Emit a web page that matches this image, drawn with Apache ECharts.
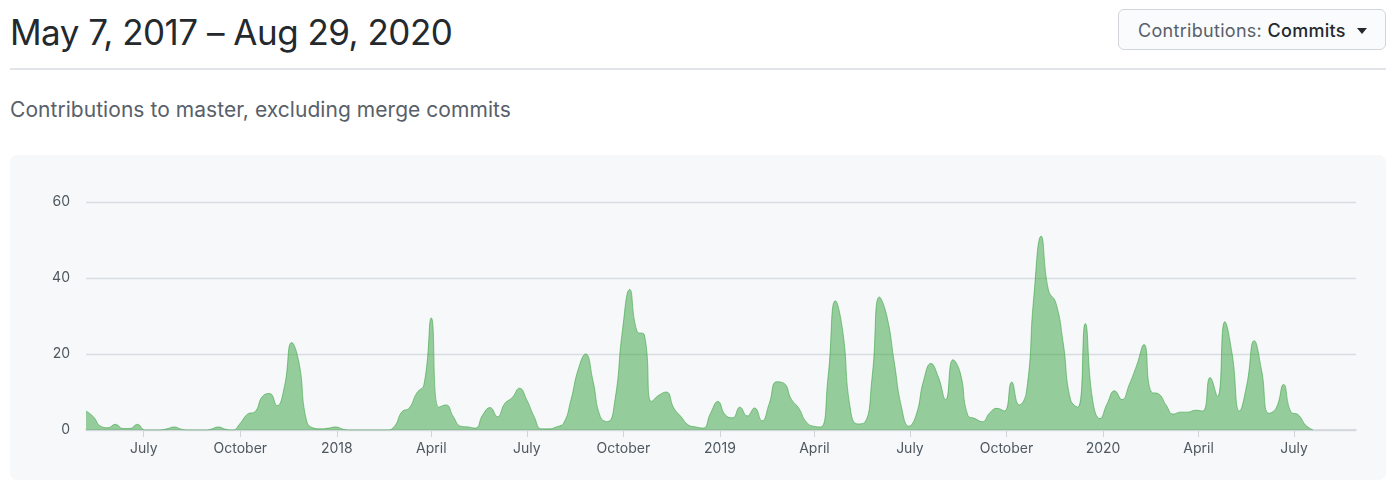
<!DOCTYPE html>
<html>
<head>
<meta charset="utf-8">
<title>Contributors</title>
<script src="https://cdn.jsdelivr.net/npm/echarts@6/dist/echarts.min.js"></script>
<style>
  html, body { margin: 0; padding: 0; background: #fff; }
  body { width: 1400px; height: 490px; position: relative; overflow: hidden;
         font-family: Inter, "Noto Sans", sans-serif; color: #24292e; }
  .title { position: absolute; left: 10px; top: 15px; font-size: 35px; line-height: 35px;
           font-weight: 400; white-space: nowrap; letter-spacing: -0.5px; }
  .rule { position: absolute; left: 10px; top: 68px; width: 1376px; height: 2px; background: #e1e4e8; }
  .subtitle { position: absolute; left: 10px; top: 99px; font-size: 21px; line-height: 21px;
              color: #586069; white-space: nowrap; letter-spacing: 0.05px; }
  .btn { position: absolute; left: 1118px; top: 9px; width: 266px; height: 39px;
         border: 1px solid #d1d5da; border-radius: 6px; background: #fafbfc; box-sizing: content-box; }
  .btn span.lbl { position: absolute; left: 19px; top: 12px; font-size: 18px; line-height: 18px;
                  color: #586069; white-space: nowrap; letter-spacing: 0.3px; }
  .btn span.lbl b { color: #24292e; font-weight: 500; }
  .btn .caret { position: absolute; left: 238px; top: 18px; width: 0; height: 0;
                border-left: 5px solid transparent; border-right: 5px solid transparent;
                border-top: 6px solid #24292e; }
  .panel { position: absolute; left: 10px; top: 155px; width: 1376px; height: 325px;
           background: #f6f8fa; border-radius: 7px; }
  #chart { width: 1376px; height: 325px; }
</style>
</head>
<body>
<div class="title">May 7, 2017 – Aug 29, 2020</div>
<div class="btn"><span class="lbl">Contributions: <b>Commits</b></span><span class="caret"></span></div>
<div class="rule"></div>
<div class="subtitle">Contributions to master, excluding merge commits</div>
<div class="panel"><div id="chart"></div></div>
<script>
// weekly commit counts, first week starts Sunday May 7, 2017
const firstWeek = Date.UTC(2017, 4, 7);
const lastDay = Date.UTC(2020, 7, 29);
const commits2017 = [5, 3.5, 1, 0.6, 1.5, 0.4, 0.4, 1.5, 0, 0,
  0, 0.3, 0.8, 0.2, 0, 0, 0, 0.2, 0.8, 0.2,
  0, 1.8, 4.2, 4.8, 8.8, 9.6, 6.4, 11.4, 23, 17.6,
  2.6, 0.5, 0.3, 0.5, 0.8];
const commits2018 = [0.2, 0, 0, 0, 0, 0, 0, 1, 4.8, 5.8,
  9.7, 12, 29.5, 6, 6.6, 3.5, 1, 0.8, 0.5, 4,
  5.9, 3.5, 7, 8.5, 11, 7.9, 3.5, 0.3, 0.3, 0.8,
  1.8, 7.9, 16, 20, 13, 3.5, 2.2, 8, 26, 37,
  26, 25, 7.5, 9.2, 10, 5.8, 3.5, 1.3, 0.8, 0.5,
  4.4, 7.5];
const commits2019 = [4, 3.2, 6, 3.7, 5.8, 2.4, 7, 12.7, 12.3, 8.1,
  5.8, 2.2, 1, 0.8, 14, 34, 26, 6, 1.6, 2,
  14, 35, 30, 18, 6, 1, 4, 13, 17.5, 14,
  8, 18.5, 15, 4, 3, 2.2, 4.5, 5.7, 5, 12.6,
  6.6, 10, 35, 51, 36.8, 33.5, 23, 8, 6, 28,
  8, 3];
const commits2020 = [7, 10.3, 8, 12, 17, 22.5, 10, 9.5, 6.6, 4.2,
  4.7, 4.7, 5.2, 5, 13.8, 8.8, 28.5, 20, 5, 12,
  23.5, 15.8, 4.4, 5.8, 12, 4.8, 4, 1.3, 0];

const tickDates = [[2017, 6], [2017, 9], [2018, 0], [2018, 3], [2018, 6], [2018, 9],
  [2019, 0], [2019, 3], [2019, 6], [2019, 9], [2020, 0], [2020, 3], [2020, 6]];
const tickLabels = ['July', 'October', '2018', 'April', 'July', 'October',
  '2019', 'April', 'July', 'October', '2020', 'April', 'July'];

const weekly = commits2017.concat(commits2018, commits2019, commits2020);
const DAY = 86400000;
const seriesData = weekly.map((v, i) => [firstWeek + i * 7 * DAY, v]);
const tickValues = tickDates.map(d => Date.UTC(d[0], d[1], 1));
const labelFor = {};
tickValues.forEach((t, i) => { labelFor[t] = tickLabels[i]; });

const chart = echarts.init(document.getElementById('chart'), null, { renderer: 'canvas' });

chart.setOption({
  animation: false,
  grid: { left: 76, right: 30, top: 47, bottom: 50, containLabel: false },
  xAxis: {
    type: 'value',
    min: firstWeek,
    max: lastDay,
    axisLine: { show: true, lineStyle: { color: '#d1d5da', width: 1.5 } },
    axisTick: { show: true, customValues: tickValues, length: 7, lineStyle: { color: '#d1d5da', width: 1 } },
    axisLabel: {
      customValues: tickValues,
      formatter: v => labelFor[v] || '',
      color: '#4f575f', fontFamily: 'Inter', fontSize: 14, margin: 12
    },
    splitLine: { show: false }
  },
  yAxis: {
    type: 'value',
    min: 0, max: 60, interval: 20,
    axisLine: { show: false },
    axisTick: { show: false },
    axisLabel: { color: '#4f575f', fontFamily: 'Inter', fontSize: 14, margin: 16 },
    splitLine: { lineStyle: { color: '#d9dde1', width: 1.3 } }
  },
  series: [{
    type: 'line',
    data: seriesData,
    smooth: 0.5,
    showSymbol: false,
    symbol: 'none',
    lineStyle: { width: 1, color: 'rgba(52,160,60,0.55)' },
    areaStyle: { color: 'rgba(52,160,60,0.5)', opacity: 1 }
  }],
  tooltip: { show: false }
});
</script>
</body>
</html>
